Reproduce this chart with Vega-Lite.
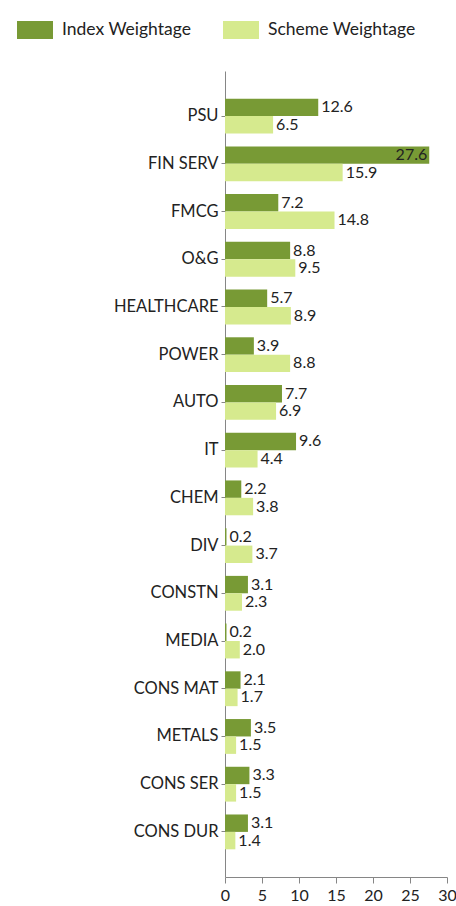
{
  "$schema": "https://vega.github.io/schema/vega-lite/v6.json",
  "autosize": {"type": "none"},
  "width": 222,
  "height": 806,
  "padding": {"left": 225, "top": 71, "right": 9, "bottom": 29},
  "background": "white",
  "config": {
    "font": "Lato",
    "view": {"stroke": null}
  },
  "data": {
    "values": [
      {"sector": "PSU", "series": "Index Weightage", "value": 12.6},
      {"sector": "PSU", "series": "Scheme Weightage", "value": 6.5},
      {"sector": "FIN SERV", "series": "Index Weightage", "value": 27.6},
      {"sector": "FIN SERV", "series": "Scheme Weightage", "value": 15.9},
      {"sector": "FMCG", "series": "Index Weightage", "value": 7.2},
      {"sector": "FMCG", "series": "Scheme Weightage", "value": 14.8},
      {"sector": "O&G", "series": "Index Weightage", "value": 8.8},
      {"sector": "O&G", "series": "Scheme Weightage", "value": 9.5},
      {"sector": "HEALTHCARE", "series": "Index Weightage", "value": 5.7},
      {"sector": "HEALTHCARE", "series": "Scheme Weightage", "value": 8.9},
      {"sector": "POWER", "series": "Index Weightage", "value": 3.9},
      {"sector": "POWER", "series": "Scheme Weightage", "value": 8.8},
      {"sector": "AUTO", "series": "Index Weightage", "value": 7.7},
      {"sector": "AUTO", "series": "Scheme Weightage", "value": 6.9},
      {"sector": "IT", "series": "Index Weightage", "value": 9.6},
      {"sector": "IT", "series": "Scheme Weightage", "value": 4.4},
      {"sector": "CHEM", "series": "Index Weightage", "value": 2.2},
      {"sector": "CHEM", "series": "Scheme Weightage", "value": 3.8},
      {"sector": "DIV", "series": "Index Weightage", "value": 0.2},
      {"sector": "DIV", "series": "Scheme Weightage", "value": 3.7},
      {"sector": "CONSTN", "series": "Index Weightage", "value": 3.1},
      {"sector": "CONSTN", "series": "Scheme Weightage", "value": 2.3},
      {"sector": "MEDIA", "series": "Index Weightage", "value": 0.2},
      {"sector": "MEDIA", "series": "Scheme Weightage", "value": 2.0},
      {"sector": "CONS MAT", "series": "Index Weightage", "value": 2.1},
      {"sector": "CONS MAT", "series": "Scheme Weightage", "value": 1.7},
      {"sector": "METALS", "series": "Index Weightage", "value": 3.5},
      {"sector": "METALS", "series": "Scheme Weightage", "value": 1.5},
      {"sector": "CONS SER", "series": "Index Weightage", "value": 3.3},
      {"sector": "CONS SER", "series": "Scheme Weightage", "value": 1.5},
      {"sector": "CONS DUR", "series": "Index Weightage", "value": 3.1},
      {"sector": "CONS DUR", "series": "Scheme Weightage", "value": 1.4}
    ]
  },
  "encoding": {
    "y": {
      "field": "sector", "type": "nominal", "sort": null, "title": null,
      "scale": {"paddingInner": 0.27, "paddingOuter": 0.58},
      "axis": {
        "labelFont": "Lato", "labelFontSize": 16.5, "labelColor": "#222222",
        "labelPadding": 3, "tickSize": 4, "tickColor": "#868686",
        "domainColor": "#868686", "labelAngle": 0
      }
    },
    "yOffset": {"field": "series", "type": "nominal", "sort": ["Index Weightage", "Scheme Weightage"]},
    "x": {
      "field": "value", "type": "quantitative", "title": null,
      "scale": {"domain": [0, 30], "nice": false},
      "axis": {
        "values": [0, 5, 10, 15, 20, 25, 30], "grid": false,
        "labelFont": "Lato", "labelFontSize": 16, "labelColor": "#222222",
        "tickSize": 6, "tickColor": "#868686", "domainColor": "#868686",
        "labelPadding": 4, "labelFlush": false
      }
    }
  },
  "layer": [
    {
      "mark": {"type": "bar", "cornerRadius": 0},
      "encoding": {
        "color": {
          "field": "series", "type": "nominal", "title": null,
          "scale": {"domain": ["Index Weightage", "Scheme Weightage"], "range": ["#789A35", "#D6EA8E"]},
          "legend": {
            "orient": "none", "direction": "horizontal",
            "legendX": -208, "legendY": -59,
            "symbolType": "M-1,-0.5H1V0.5H-1Z", "symbolSize": 1296,
            "symbolStrokeWidth": 0, "symbolOpacity": 1,
            "labelFont": "Lato", "labelFontSize": 17.5, "labelColor": "#222222",
            "labelOffset": 9, "columnPadding": 31
          }
        }
      }
    },
    {
      "transform": [{"filter": "datum.value <= 25"}],
      "mark": {"type": "text", "align": "left", "baseline": "middle", "dx": 3, "font": "Lato", "fontSize": 16, "color": "#222222"},
      "encoding": {"text": {"field": "value", "type": "quantitative", "format": ".1f"}}
    },
    {
      "transform": [{"filter": "datum.value > 25"}],
      "mark": {"type": "text", "align": "right", "baseline": "middle", "dx": -2, "font": "Lato", "fontSize": 16, "color": "#222222"},
      "encoding": {"text": {"field": "value", "type": "quantitative", "format": ".1f"}}
    }
  ]
}
